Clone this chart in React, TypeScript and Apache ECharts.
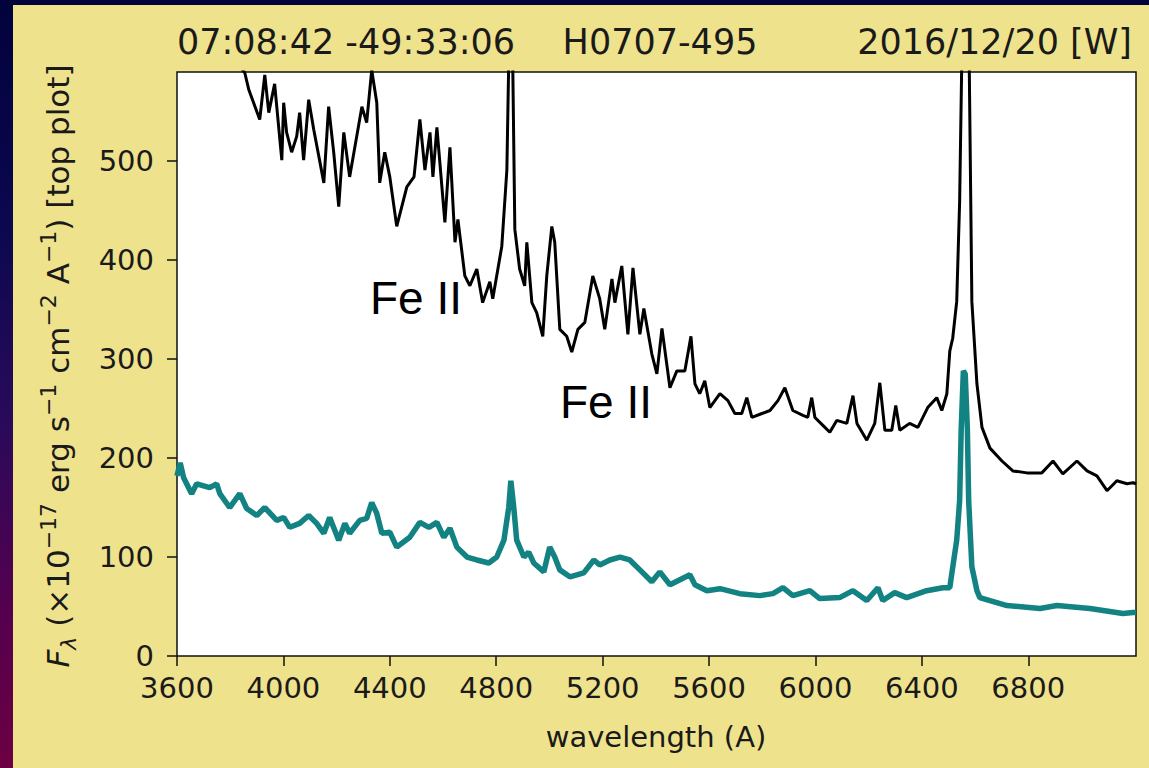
import React, { useEffect, useRef } from "react";
import * as echarts from "echarts";

// Spectrum: [wavelength (Å), flux (1e-17 erg/s/cm²/Å)]
const topSpectrum: [number, number][] = [
  [3600, 665], [3700, 640], [3800, 612], [3847, 592], [3855, 589], [3870, 572], [3911, 542], [3930, 587],
  [3945, 549], [3967, 578], [3975, 555], [3994, 501], [4001, 559], [4012, 529], [4031, 509], [4050, 525],
  [4061, 549], [4076, 501], [4095, 562], [4114, 532], [4152, 478], [4170, 555], [4189, 509], [4208, 454],
  [4227, 529], [4249, 484], [4295, 555], [4313, 539], [4332, 592], [4351, 559], [4362, 478], [4381, 509],
  [4400, 484], [4426, 434], [4464, 474], [4491, 484], [4513, 542], [4532, 491], [4551, 529], [4562, 484],
  [4577, 534], [4607, 438], [4626, 514], [4645, 418], [4656, 441], [4682, 384], [4701, 374], [4727, 391],
  [4749, 357], [4776, 378], [4787, 361], [4821, 414], [4840, 491], [4847, 600], [4855, 700], [4862, 600],
  [4870, 431], [4888, 391], [4907, 374], [4915, 418], [4934, 357], [4952, 347], [4975, 323], [4990, 384],
  [5009, 434], [5020, 418], [5039, 330], [5065, 323], [5084, 307], [5107, 330], [5133, 337], [5163, 384],
  [5189, 361], [5208, 330], [5235, 381], [5246, 357], [5272, 394], [5295, 325], [5314, 392], [5340, 325],
  [5355, 351], [5385, 305], [5404, 285], [5423, 331], [5453, 271], [5479, 288], [5509, 288], [5532, 323],
  [5547, 275], [5565, 265], [5584, 278], [5603, 251], [5641, 265], [5671, 258], [5697, 245], [5723, 245],
  [5742, 261], [5761, 241], [5799, 245], [5829, 248], [5859, 258], [5885, 271], [5915, 248], [5953, 243],
  [5971, 241], [5986, 261], [5998, 241], [6028, 233], [6054, 226], [6080, 238], [6118, 235], [6141, 263],
  [6156, 235], [6193, 218], [6223, 235], [6242, 276], [6261, 228], [6287, 228], [6302, 253], [6317, 228],
  [6354, 235], [6385, 231], [6422, 251], [6456, 261], [6475, 248], [6494, 265], [6505, 308], [6516, 321],
  [6531, 358], [6542, 459], [6550, 600], [6558, 900], [6566, 900], [6578, 600], [6588, 358], [6607, 275],
  [6626, 231], [6656, 210], [6701, 197], [6742, 187], [6795, 185], [6851, 185], [6893, 197], [6930, 184],
  [6983, 197], [7021, 187], [7058, 182], [7096, 167], [7133, 177], [7171, 174], [7194, 175], [7205, 174],
];

const bottomSpectrum: [number, number][] = [
  [3600, 182], [3612, 195], [3625, 180], [3655, 164], [3674, 174], [3723, 170], [3749, 174], [3761, 164],
  [3798, 150], [3836, 164], [3862, 149], [3900, 142], [3930, 150], [3975, 137], [4001, 140], [4024, 130],
  [4061, 134], [4095, 142], [4125, 134], [4152, 124], [4174, 140], [4208, 117], [4231, 134], [4249, 124],
  [4287, 137], [4313, 139], [4332, 155], [4351, 144], [4370, 124], [4400, 125], [4426, 110], [4475, 120],
  [4513, 135], [4547, 130], [4577, 135], [4603, 120], [4626, 129], [4652, 110], [4690, 100], [4727, 97],
  [4772, 94], [4802, 100], [4829, 117], [4847, 150], [4855, 177], [4866, 150], [4877, 117], [4904, 100],
  [4922, 105], [4941, 94], [4979, 85], [5001, 110], [5020, 100], [5039, 87], [5077, 80], [5129, 84],
  [5167, 97], [5189, 92], [5227, 97], [5265, 100], [5302, 97], [5340, 87], [5385, 75], [5415, 85],
  [5453, 72], [5528, 82], [5547, 72], [5592, 66], [5641, 68], [5716, 63], [5791, 61], [5840, 63],
  [5878, 69], [5915, 61], [5979, 66], [6016, 58], [6091, 59], [6141, 66], [6193, 56], [6235, 69],
  [6253, 56], [6298, 64], [6343, 59], [6418, 66], [6479, 69], [6505, 69], [6513, 84], [6531, 117],
  [6542, 157], [6548, 230], [6556, 288], [6563, 285], [6571, 230], [6576, 157], [6588, 90], [6607, 66],
  [6618, 59], [6656, 56], [6720, 51], [6844, 48], [6908, 51], [7032, 48], [7156, 43], [7194, 44], [7205, 44],
];

const xTicks = [3600, 4000, 4400, 4800, 5200, 5600, 6000, 6400, 6800];
const yTicks = [0, 100, 200, 300, 400, 500];
const titleLeft = "07:08:42 -49:33:06";
const titleMid = "H0707-495";
const titleRight = "2016/12/20 [W]";
const xName = "wavelength (A)";
const annotations = ["Fe II", "Fe II"];

const FONT = "'DejaVu Sans', sans-serif";
const TXT = "#1a1a1a";

export default function App() {
  const ref = useRef<HTMLDivElement>(null);
  useEffect(() => {
    document.body.style.margin = "0";
    const chart = echarts.init(ref.current!, null, { renderer: "svg" });
    chart.setOption({
      animation: false,
      backgroundColor: "transparent",
      grid: {
        left: 177,
        top: 72,
        right: 13,
        bottom: 112,
        show: true,
        backgroundColor: "#ffffff",
        borderColor: "#111",
        borderWidth: 1.5,
      },
      xAxis: {
        type: "value",
        min: 3600,
        max: 7205,
        interval: 400,
        axisLine: { show: false },
        splitLine: { show: false },
        axisTick: { show: true, length: 10, lineStyle: { color: "#111", width: 1.5 }, customValues: xTicks },
        axisLabel: {
          color: TXT,
          fontFamily: FONT,
          fontSize: 29,
          margin: 17,
          customValues: xTicks,
          formatter: (v: number) => String(v),
        },
      },
      yAxis: {
        type: "value",
        min: 0,
        max: 590,
        interval: 100,
        axisLine: { show: false },
        splitLine: { show: false },
        axisTick: { show: true, length: 10, lineStyle: { color: "#111", width: 1.5 }, customValues: yTicks },
        axisLabel: {
          color: TXT,
          fontFamily: FONT,
          fontSize: 29,
          margin: 23,
          customValues: yTicks,
          formatter: (v: number) => String(v),
        },
      },
      series: [
        {
          type: "line",
          data: topSpectrum,
          showSymbol: false,
          lineStyle: { color: "#000", width: 3 },
          clip: true,
          z: 2,
        },
        {
          type: "line",
          data: bottomSpectrum,
          showSymbol: false,
          lineStyle: { color: "#138282", width: 5.5 },
          clip: true,
          z: 3,
        },
      ],
      graphic: [
        { type: "text", x: 177, y: 42, style: { text: titleLeft, fontFamily: FONT, fontSize: 35, fill: TXT, textAlign: "left", textVerticalAlign: "middle" } },
        { type: "text", x: 660, y: 42, style: { text: titleMid, fontFamily: FONT, fontSize: 35, fill: TXT, textAlign: "center", textVerticalAlign: "middle" } },
        { type: "text", x: 1132, y: 42, style: { text: titleRight, fontFamily: FONT, fontSize: 35, fill: TXT, textAlign: "right", textVerticalAlign: "middle" } },
        { type: "text", x: 656, y: 737, style: { text: xName, fontFamily: FONT, fontSize: 29, fill: TXT, textAlign: "center", textVerticalAlign: "middle" } },
        {
          type: "text",
          x: 58,
          y: 366,
          rotation: Math.PI / 2,
          style: {
            text: "{i|F}{sub|λ} (×10{sup|−17} erg s{sup|−1} cm{sup|−2} A{sup|−1}) [top plot]",
            fontFamily: FONT,
            fontSize: 31,
            fill: TXT,
            textAlign: "center",
            textVerticalAlign: "middle",
            rich: {
              i: { fontFamily: FONT, fontSize: 31, fontStyle: "italic", fill: TXT, lineHeight: 42, verticalAlign: "middle" },
              sub: { fontFamily: FONT, fontSize: 22, fontStyle: "italic", fill: TXT, lineHeight: 42, verticalAlign: "bottom" },
              sup: { fontFamily: FONT, fontSize: 22, fill: TXT, lineHeight: 42, verticalAlign: "top" },
            },
          },
        },
        { type: "text", x: 370, y: 298, style: { text: annotations[0], fontFamily: "'Liberation Sans', Arial, sans-serif", fontSize: 46, fill: "#000", textAlign: "left", textVerticalAlign: "middle" } },
        { type: "text", x: 560, y: 402, style: { text: annotations[1], fontFamily: "'Liberation Sans', Arial, sans-serif", fontSize: 46, fill: "#000", textAlign: "left", textVerticalAlign: "middle" } },
      ],
    });
    return () => chart.dispose();
  }, []);

  return (
    <div
      style={{
        position: "fixed",
        left: 0,
        top: 0,
        width: 1149,
        height: 768,
        background: "linear-gradient(180deg, #02023c 0%, #0b0850 30%, #2a0a5a 55%, #55004e 80%, #6c0042 100%)",
        overflow: "hidden",
      }}
    >
      <div style={{ position: "absolute", left: 13, top: 5, width: 1136, height: 763, background: "#efe28c" }} />
      <div ref={ref} style={{ position: "absolute", left: 0, top: 0, width: 1149, height: 768 }} />
    </div>
  );
}
